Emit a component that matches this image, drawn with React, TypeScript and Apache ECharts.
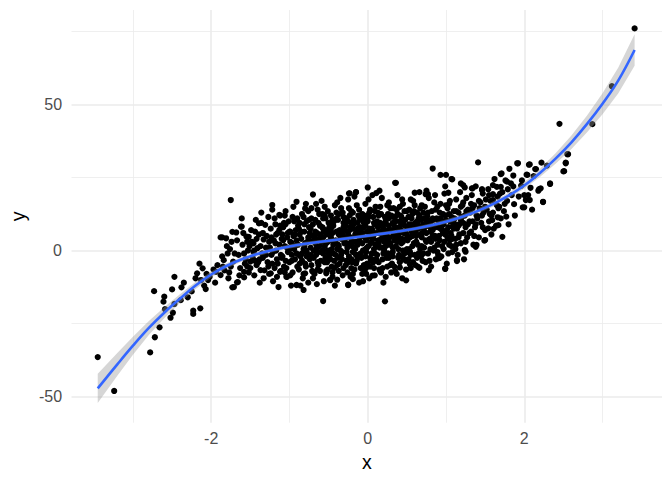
import { useEffect, useRef } from "react";
import * as echarts from "echarts";

const xMajorTicks = [-2, 0, 2];
const xMinorTicks = [-3, -1, 1, 3];
const yMajorTicks = [-50, 0, 50];
const yMinorTicks = [-25, 25, 75];

const edgePoints: [number, number][] = [
  [-3.45,-36.5],[-3.24,-48.1],[-2.78,-34.9],[-2.72,-29.7],[-2.66,-26.3],[-2.52,-23.0],[-2.49,-21.3],[-2.59,-20.1],[-2.61,-17.5],[-2.60,-15.8],[-2.73,-13.9],[-2.50,-13.3],[-2.47,-18.3],[-2.39,-17.0],[-2.47,-9.0],[-2.38,-12.6],[-2.23,-20.6],[-2.23,-21.7],[-2.14,-19.8],[-2.18,-7.8],[-2.11,-6.1],[-2.07,-13.2],[-2.13,-10.1],[-2.04,-10.1],[-1.94,-7.3],[-1.88,-8.4],[-1.73,-12.6],[-1.67,-10.9],[-1.84,-3.3],[-1.75,-5.5],[-1.58,-7.3],[-1.50,-3.8],[-1.37,-6.7],[-1.24,-7.8],[-1.12,-7.3],[-1.03,-9.0],[-0.91,-11.8],[-0.82,-13.5],[-0.57,-17.3],[-0.80,-7.8],[-0.70,-7.3],[-0.48,-10.1],[-0.53,-7.8],
  [-1.75,17.3],[-0.70,19.2],[-0.91,16.7],[-1.22,15.6],[-1.13,12.2],[-1.61,8.2],[-1.73,6.4],[-1.39,9.3],[-0.80,14.4],[-0.55,15.0],[-1.86,4.5],[-1.52,4.7],
  [3.41,76.1],[3.12,56.3],[2.87,43.3],[2.45,43.4],[2.56,33.0],[2.53,30.1],[2.50,27.1],[2.33,22.8],[2.24,16.6],[2.22,30.1],[2.29,29.1],[2.14,27.9],[2.06,29.4],[1.91,29.9],[1.81,28.0],[1.70,26.2],[2.03,26.0],[1.86,25.7],[2.19,21.0],[2.00,19.0],[2.02,17.3],[2.00,14.8],[1.87,15.9],[2.07,17.3],[1.41,30.2],[0.83,28.1],[0.93,25.9],[1.00,25.9],[1.07,24.5],[1.19,23.0],[1.24,21.6],[1.34,21.3],[1.46,21.0],[1.60,22.4],[1.70,21.8],[1.78,23.6],[0.35,23.2],[0.00,21.6],[-0.24,19.6],[-0.15,20.0],[0.11,19.7],[0.60,19.8],[0.74,19.3],[0.77,19.3],[1.03,19.8],
  [0.22,-17.4],[0.49,-10.2],[-0.25,-11.7],[-0.19,-9.8],[0.06,-8.6],[0.16,-7.0],[0.25,-5.5],[0.66,-5.9],[0.99,-6.3],[1.14,-3.6],[0.90,-2.7],[0.54,-4.7],[0.41,-5.8],[-0.02,-5.9],[1.25,-0.4],[1.38,1.3],[1.49,3.4],
  [1.08,24.4],[1.71,26.4],[1.92,29.9],[2.07,29.5],[2.15,27.9],[2.04,25.9],[1.83,23.0],[1.96,22.2],[2.33,23.0],[2.21,21.3],[2.18,20.5],[2.05,19.0],[1.98,14.8],[2.24,16.7],[2.51,27.2],[2.53,29.9],[2.55,33.0],[1.72,4.7],[1.77,11.6],[1.66,11.4],[1.59,10.4],[1.67,8.7],[1.54,7.6],[1.50,3.6],[1.39,1.9],[1.24,0.2],[1.14,-3.3],[0.99,-6.1],[0.92,-2.5],[1.67,14.5],[1.60,17.3],[1.46,20.7],[1.33,21.3],[1.22,22.4],[1.65,21.8],[1.60,19.3],
  [0.36,23.2],[-0.23,19.6],[-0.25,-11.8],[-0.48,-10.1],
  [-2.25,-14.0],[-2.2,-9.5],[-2.15,-4.5],[-2.3,-16.0],[-2.35,-11.0],
  [-2.02,-9.0],[-1.97,-6.5],[-1.95,-11.0],[-2.06,-8.0],[-1.92,-5.0],[-2.09,-12.0],
];

const corePoints: [number, number][] = [
  [-1.88,4.5],[-1.81,4.2],[-1.86,-2.0],[-1.83,-6.8],[-1.78,-9.5],[-1.76,0.5],[-1.72,-3.8],[-1.71,-12.5],[-1.79,-1.0],[-1.74,3.0],
  [-1.68,6.2],[-1.65,-1.5],[-1.63,-6.0],[-1.62,8.2],[-1.6,2.0],[-1.58,-9.2],[-1.56,-3.0],[-1.55,4.8],[-1.53,0.0],[-1.52,-7.5],[-1.66,-10.8],[-1.61,11.0],[-1.57,-4.5],
  [-1.49,7.0],[-1.47,-2.5],[-1.46,2.5],[-1.45,-8.5],[-1.43,10.5],[-1.42,-5.0],[-1.41,0.8],[-1.39,5.5],[-1.38,-11.0],[-1.36,13.0],[-1.35,-1.0],[-1.33,3.8],[-1.32,-6.8],[-1.31,8.8],[-1.44,-3.5],[-1.37,1.5],
  [-1.29,5.0],[-1.28,-4.0],[-1.27,11.5],[-1.26,-8.0],[-1.25,1.0],[-1.24,7.5],[-1.23,-1.5],[-1.22,14.0],[-1.21,-10.5],[-1.2,3.5],[-1.19,-6.0],[-1.18,9.0],[-1.17,0.0],[-1.16,-3.0],[-1.15,6.0],[-1.14,-12.5],[-1.13,2.0],[-1.12,12.0],[-1.11,-7.0],[-1.1,4.0],
  [-1.09,-2.0],[-1.08,8.0],[-1.07,-5.5],[-1.06,1.5],[-1.05,13.5],[-1.04,-9.0],[-1.03,4.5],[-1.02,-0.5],[-1.01,10.0],[-1.0,-4.0],[-0.99,6.5],[-0.98,-12.0],[-0.97,2.5],[-0.96,-7.5],[-0.95,15.0],[-0.94,0.5],[-0.93,-3.0],[-0.92,7.0],[-0.91,-1.0],[-0.9,11.0],[-0.99,3.0],[-1.04,-6.0],[-0.95,5.0],[-1.07,9.5],
  [-0.89,2.0],[-0.88,-6.5],[-0.87,9.5],[-0.86,-2.0],[-0.85,4.0],[-0.84,12.5],[-0.83,-9.5],[-0.82,0.5],[-0.81,6.5],[-0.8,-4.5],[-0.79,16.0],[-0.78,-0.5],[-0.77,3.0],[-0.76,-11.0],[-0.75,8.0],[-0.74,-3.0],[-0.73,1.0],[-0.72,11.0],[-0.71,-7.0],[-0.7,5.0],[-0.88,7.5],[-0.84,-1.0],[-0.8,2.5],[-0.76,13.5],[-0.72,-5.0],[-0.86,-12.0],[-0.78,10.0],[-0.74,6.0],[-0.82,-8.0],
  [-0.69,3.5],[-0.68,-8.0],[-0.67,10.5],[-0.66,-1.5],[-0.65,6.0],[-0.64,14.0],[-0.63,-5.0],[-0.62,1.5],[-0.61,8.5],[-0.6,-3.5],[-0.59,17.0],[-0.58,0.0],[-0.57,4.5],[-0.56,-10.5],[-0.55,12.0],[-0.54,-2.5],[-0.53,2.5],[-0.52,7.0],[-0.51,-6.5],[-0.5,9.5],[-0.68,5.0],[-0.65,-11.5],[-0.62,12.5],[-0.59,-0.5],[-0.56,6.5],[-0.53,-7.0],[-0.51,3.0],[-0.66,16.0],[-0.6,4.0],[-0.54,11.0],[-0.64,-4.0],[-0.58,8.0],[-0.5,-1.0],
  [-0.49,5.5],[-0.48,-3.0],[-0.47,12.0],[-0.46,0.5],[-0.45,-7.5],[-0.44,8.5],[-0.43,3.0],[-0.42,15.5],[-0.41,-1.5],[-0.4,6.5],[-0.39,-10.0],[-0.38,10.5],[-0.37,1.5],[-0.36,-4.5],[-0.35,18.0],[-0.34,4.0],[-0.33,-0.5],[-0.32,13.0],[-0.31,-6.0],[-0.3,7.5],[-0.48,9.0],[-0.46,-5.5],[-0.44,2.0],[-0.42,-12.0],[-0.4,11.0],[-0.38,-2.5],[-0.36,7.0],[-0.34,14.5],[-0.32,-8.5],[-0.3,2.5],[-0.47,4.5],[-0.43,-3.5],[-0.39,16.5],[-0.35,0.0],[-0.31,9.5],[-0.45,6.0],[-0.37,-7.0],
  [-0.29,4.0],[-0.28,-5.0],[-0.27,11.0],[-0.26,1.0],[-0.25,17.5],[-0.24,-2.0],[-0.23,7.0],[-0.22,-9.0],[-0.21,13.5],[-0.2,3.0],[-0.19,-0.5],[-0.18,9.0],[-0.17,-6.5],[-0.16,5.5],[-0.15,20.0],[-0.14,-3.5],[-0.13,2.0],[-0.12,12.0],[-0.11,-11.0],[-0.1,6.5],[-0.28,8.5],[-0.26,-7.5],[-0.24,14.5],[-0.22,4.5],[-0.2,-4.0],[-0.18,10.5],[-0.16,0.5],[-0.14,15.5],[-0.12,-1.5],[-0.1,8.0],[-0.27,-0.5],[-0.23,2.5],[-0.19,-8.0],[-0.15,6.0],[-0.11,3.5],[-0.25,10.0],[-0.21,-3.0],[-0.17,18.5],[-0.13,7.5],
  [-0.09,5.0],[-0.08,-2.5],[-0.07,12.5],[-0.06,0.0],[-0.05,8.0],[-0.04,-7.0],[-0.03,16.0],[-0.02,3.5],[-0.01,-4.5],[0.0,10.0],[0.01,1.5],[0.02,-9.5],[0.03,14.0],[0.04,6.0],[0.05,-1.0],[0.06,19.0],[0.07,4.0],[0.08,-6.0],[0.09,9.0],[0.1,2.0],[-0.08,7.5],[-0.06,-10.5],[-0.04,11.0],[-0.02,-0.5],[0.0,4.5],[0.02,13.0],[0.04,-3.5],[0.06,7.0],[0.08,0.5],[0.1,15.0],[-0.07,2.5],[-0.03,-2.0],[0.01,17.5],[0.05,3.0],[0.09,-8.5],[-0.05,9.5],[-0.01,6.5],[0.03,-5.5],[0.07,11.5],[-0.09,-6.0],
  [0.11,6.0],[0.12,-1.5],[0.13,13.0],[0.14,2.5],[0.15,-6.5],[0.16,9.5],[0.17,4.0],[0.18,18.0],[0.19,-3.0],[0.2,7.5],[0.21,0.0],[0.22,11.5],[0.23,-9.0],[0.24,5.0],[0.25,15.5],[0.26,-1.0],[0.27,8.5],[0.28,2.0],[0.29,-5.0],[0.3,12.0],[0.12,10.0],[0.14,-4.0],[0.16,15.0],[0.18,1.0],[0.2,-11.0],[0.22,6.5],[0.24,-2.5],[0.26,12.5],[0.28,4.5],[0.3,-7.5],[0.13,3.5],[0.17,-7.5],[0.21,9.0],[0.25,3.0],[0.29,7.0],[0.15,20.5],[0.19,5.5],[0.23,1.5],[0.27,16.5],
  [0.31,7.0],[0.32,-2.0],[0.33,14.5],[0.34,3.5],[0.35,-7.0],[0.36,10.0],[0.37,5.0],[0.38,19.0],[0.39,0.5],[0.4,8.0],[0.41,-4.0],[0.42,12.0],[0.43,2.5],[0.44,-9.5],[0.45,16.0],[0.46,6.0],[0.47,-1.0],[0.48,10.5],[0.49,4.0],[0.5,13.5],[0.32,9.5],[0.34,-5.5],[0.36,1.5],[0.38,12.5],[0.4,-1.5],[0.42,7.0],[0.44,17.5],[0.46,-3.0],[0.48,6.5],[0.5,0.5],[0.33,5.5],[0.37,-8.0],[0.41,15.0],[0.45,3.0],[0.49,-6.5],[0.35,11.5],[0.43,9.0],
  [0.51,8.0],[0.52,-3.0],[0.53,14.0],[0.54,4.5],[0.55,-6.0],[0.56,11.0],[0.57,1.5],[0.58,17.0],[0.59,6.0],[0.6,-1.5],[0.61,9.5],[0.62,3.0],[0.63,13.0],[0.64,-5.5],[0.65,7.5],[0.66,20.0],[0.67,0.5],[0.68,10.5],[0.69,4.5],[0.7,-3.5],[0.52,11.5],[0.54,-0.5],[0.56,6.5],[0.58,-4.0],[0.6,15.5],[0.62,8.5],[0.64,2.0],[0.66,12.0],[0.68,-2.0],[0.7,6.0],[0.55,17.5],[0.61,-5.0],[0.67,14.5],
  [0.71,9.0],[0.72,1.0],[0.73,15.0],[0.74,-4.0],[0.75,6.0],[0.76,12.0],[0.77,-1.0],[0.78,18.0],[0.79,4.0],[0.8,9.5],[0.81,-5.5],[0.82,13.5],[0.83,7.0],[0.84,0.0],[0.85,16.5],[0.86,5.0],[0.87,-3.0],[0.88,11.0],[0.89,2.0],[0.9,8.0],[0.72,6.5],[0.75,20.5],[0.78,-6.8],[0.81,3.0],[0.84,10.5],[0.87,14.0],[0.9,-1.5],[0.77,8.5],[0.86,19.0],
  [0.91,10.0],[0.92,3.5],[0.93,16.0],[0.94,-2.0],[0.95,7.0],[0.96,12.5],[0.97,0.5],[0.98,19.5],[0.99,5.5],[1.0,10.5],[1.01,-4.5],[1.02,14.5],[1.03,8.0],[1.04,2.0],[1.05,17.0],[1.06,6.0],[1.07,11.5],[1.08,-0.5],[1.09,8.5],[1.1,13.5],[0.94,8.0],[0.99,22.0],[1.03,-1.0],[1.08,4.0],
  [1.11,11.0],[1.12,4.0],[1.13,17.5],[1.14,7.5],[1.15,-1.5],[1.16,13.0],[1.17,9.0],[1.18,20.0],[1.19,2.5],[1.2,11.5],[1.21,15.5],[1.22,6.0],[1.23,-3.0],[1.24,12.0],[1.25,8.0],[1.26,18.0],[1.27,4.5],[1.28,14.0],[1.3,10.0],
  [1.31,13.0],[1.32,6.5],[1.33,19.0],[1.34,10.0],[1.35,2.0],[1.36,15.5],[1.37,8.0],[1.38,22.0],[1.39,12.0],[1.42,4.5],[1.44,16.5],[1.45,9.5],[1.47,19.5],[1.48,13.0],[1.5,7.0],
  [1.52,14.0],[1.54,21.0],[1.55,10.0],[1.57,17.0],[1.58,5.5],[1.6,13.0],[1.62,24.5],[1.64,8.5],[1.66,18.5],[1.68,15.0],[1.7,11.0],
  [1.72,20.0],[1.74,13.5],[1.76,24.0],[1.78,17.0],[1.8,9.0],[1.84,19.0],[1.86,22.0],[1.88,12.0],
  [1.93,18.5],[1.97,24.0],[2.08,21.5],[2.1,14.0],[2.12,25.5],
];

const extraPoints: [number, number][] = [
  [-1.85,-5.5],[-1.8,1.5],[-1.77,-7.5],[-1.7,-1.0],[-1.67,3.5],[-1.64,-8.5],[-1.59,6.0],[-1.54,-5.5],[-1.51,1.5],
  [-1.48,3.0],[-1.44,6.5],[-1.4,-4.0],[-1.36,9.5],[-1.34,-2.5],[-1.3,1.0],[-1.27,-5.5],[-1.23,4.5],[-1.19,11.0],[-1.16,-9.0],[-1.13,7.0],[-1.1,-2.5],[-1.45,0.0],[-1.33,-9.5],[-1.21,-0.5],
  [-1.08,3.5],[-1.05,-3.5],[-1.02,6.0],[-0.99,-8.5],[-0.96,11.5],[-0.93,1.5],[-0.9,-5.5],[-0.87,5.5],[-0.84,-3.5],[-0.81,9.0],[-0.78,-2.0],[-0.75,3.5],[-0.72,14.5],[-0.7,-9.5],[-1.06,12.0],[-0.97,-1.5],[-0.89,8.5],[-0.79,0.0],[-0.73,7.5],
  [-0.69,-2.5],[-0.67,6.5],[-0.65,1.0],[-0.63,9.5],[-0.61,-7.0],[-0.59,3.0],[-0.57,11.0],[-0.55,-4.0],[-0.53,5.5],[-0.51,13.5],[-0.49,-1.5],[-0.47,7.5],[-0.45,-9.0],[-0.43,10.0],[-0.41,3.5],[-0.39,-5.0],[-0.37,12.5],[-0.35,5.0],[-0.33,-3.0],[-0.31,8.0],[-0.63,-0.5],[-0.57,-1.0],[-0.5,6.0],[-0.44,-1.0],[-0.38,2.0],[-0.32,5.5],
  [-0.29,10.5],[-0.27,-3.5],[-0.25,5.5],[-0.23,12.0],[-0.21,-6.0],[-0.19,7.5],[-0.17,1.0],[-0.15,-4.5],[-0.13,9.5],[-0.11,14.0],[-0.09,-1.0],[-0.07,6.0],[-0.05,-5.0],[-0.03,8.5],[-0.01,1.0],[0.01,11.5],[0.03,-2.5],[0.05,7.5],[0.07,-4.0],[0.09,13.5],[-0.26,6.5],[-0.2,1.5],[-0.14,3.0],[-0.08,10.5],[-0.02,-8.0],[0.04,2.5],[0.08,5.5],
  [0.11,-3.0],[0.13,8.0],[0.15,1.0],[0.17,12.5],[0.19,-6.0],[0.21,5.0],[0.23,9.5],[0.25,-2.0],[0.27,11.0],[0.29,2.5],[0.31,-4.5],[0.33,9.0],[0.35,4.5],[0.37,14.0],[0.39,-2.5],[0.41,6.0],[0.43,11.5],[0.45,0.0],[0.47,8.5],[0.49,-3.5],[0.14,6.0],[0.2,3.5],[0.26,7.0],[0.32,1.0],[0.38,7.5],[0.44,4.0],
  [0.51,3.5],[0.53,9.0],[0.55,-1.5],[0.57,12.5],[0.59,2.5],[0.61,6.5],[0.63,-2.5],[0.65,11.0],[0.67,5.5],[0.69,15.5],[0.71,-1.0],[0.73,8.0],[0.75,3.0],[0.77,13.0],[0.79,-3.5],[0.81,10.5],[0.83,5.0],[0.85,1.0],[0.87,8.5],[0.89,15.0],[0.57,5.0],[0.64,9.0],[0.72,11.0],[0.8,6.5],
  [0.91,5.0],[0.93,11.0],[0.95,1.5],[0.97,9.0],[1.0,15.5],[1.02,4.5],[1.05,10.0],[1.07,1.5],[1.1,7.5],[1.13,13.5],[1.16,4.5],[1.19,10.5],[1.22,16.5],[1.25,3.0],[1.28,9.0],[0.96,6.0],[1.04,12.5],[1.12,0.5],
  [1.32,16.0],[1.36,5.0],[1.4,11.0],[1.43,14.5],[1.47,8.0],[1.51,17.5],[1.56,12.5],[1.61,7.5],[1.65,15.5],[1.69,19.5],[1.75,16.0],[1.79,21.0],
];

const densePoints: [number, number][] = [
  [-1.18,2.5],[-1.15,-4.5],[-1.12,8.5],[-1.09,5.5],[-1.06,-7.5],[-1.03,1.0],[-1.0,6.5],[-0.97,-3.5],[-0.94,10.0],[-0.91,3.5],[-0.88,-1.5],[-0.85,6.5],[-0.82,11.5],[-0.79,-5.5],[-0.76,4.5],[-0.73,-1.5],[-0.7,9.0],[-0.67,2.5],[-0.64,-6.5],[-0.61,5.5],[-0.58,12.5],[-0.55,1.5],[-0.52,-4.0],[-0.49,8.0],[-0.46,3.5],[-0.43,-6.0],[-0.4,13.0],[-0.37,5.5],[-0.34,-1.5],[-0.31,11.5],[-0.28,2.5],[-0.25,-4.0],[-0.22,8.0],[-0.19,13.0],[-0.16,3.0],[-0.13,-2.5],[-0.1,11.0],[-0.07,-8.0],[-0.04,4.5],[-0.01,12.0],[0.02,7.5],[0.05,-3.0],[0.08,9.5],[0.11,1.5],[0.14,12.0],[0.17,6.5],[0.2,-1.0],[0.23,10.5],[0.26,3.5],[0.29,14.5],[0.32,-0.5],[0.35,8.0],[0.38,3.0],[0.41,10.0],[0.44,-2.0],[0.47,13.5],[0.5,5.5],[0.53,0.5],[0.56,9.0],[0.59,13.5],[0.62,5.0],[0.65,-1.0],[0.68,8.0],[0.71,13.0],[0.74,3.5],[0.77,10.5],[0.8,0.5],[0.83,11.0],[0.86,8.0],[0.89,-0.5],[0.92,13.0],[0.95,10.0],[0.98,3.0],[1.01,7.0],[1.04,16.0],[1.07,5.0],[1.1,10.5],[1.13,2.0],[1.16,8.5],[1.19,15.0],
  [-1.17,5.5],[-1.11,-1.5],[-1.05,9.0],[-0.99,0.5],[-0.93,5.5],[-0.87,-4.5],[-0.81,1.5],[-0.75,10.5],[-0.69,0.0],[-0.63,4.0],[-0.57,7.5],[-0.51,0.0],[-0.45,10.5],[-0.39,0.5],[-0.33,6.5],[-0.27,4.5],[-0.21,9.5],[-0.15,-1.5],[-0.09,7.5],[-0.03,0.5],[0.03,5.0],[0.09,-1.0],[0.15,8.5],[0.21,3.0],[0.27,-2.5],[0.33,11.5],[0.39,4.5],[0.45,9.5],[0.51,-0.5],[0.57,8.0],[0.63,10.0],[0.69,1.5],[0.75,9.5],[0.81,7.5],[0.87,4.0],[0.93,7.5],[0.99,12.0],[1.05,3.5],[1.11,9.0],[1.17,5.5],
  [-1.58,-1.0],[-1.54,3.0],[-1.5,-6.0],[-1.46,-0.5],[-1.42,4.0],[-1.38,-3.0],[-1.34,6.0],[-1.3,-1.5],[-1.26,3.0],[-1.22,-4.5],
  [1.22,9.5],[1.26,13.5],[1.3,6.0],[1.34,14.5],[1.38,9.0],[1.42,17.0],[1.46,12.0],[1.5,15.0],[1.55,19.0],[1.58,12.0],
];

const smoothX = [-3.45,-3.2,-3.0,-2.8,-2.6,-2.4,-2.2,-2.0,-1.8,-1.6,-1.4,-1.2,-1.0,-0.8,-0.6,-0.4,-0.2,0,0.2,0.4,0.6,0.8,1.0,1.2,1.4,1.6,1.8,2.0,2.2,2.4,2.6,2.8,3.0,3.2,3.41];
const smoothY = [-47.2,-39.0,-32.6,-26.6,-21.3,-16.5,-12.0,-8.2,-5.2,-2.9,-1.1,0.3,1.4,2.3,3.0,3.7,4.4,5.1,5.8,6.6,7.5,8.6,9.9,11.5,13.5,15.9,18.8,22.3,26.6,31.5,37.0,43.3,50.3,58.2,68.7];
const bandLower = [-52.2,-42.9,-35.7,-29.0,-23.2,-18.0,-13.2,-9.2,-6.1,-3.7,-1.9,-0.4,0.7,1.6,2.4,3.1,3.8,4.5,5.2,6.0,6.9,7.9,9.2,10.7,12.7,15.0,17.8,21.2,25.2,29.7,34.7,40.4,46.7,53.8,63.3];
const bandUpper = [-42.2,-35.1,-29.5,-24.2,-19.4,-15.0,-10.8,-7.2,-4.3,-2.1,-0.3,1.0,2.1,3.0,3.6,4.3,5.0,5.7,6.4,7.2,8.1,9.3,10.6,12.3,14.3,16.8,19.8,23.4,28.0,33.3,39.3,46.2,53.9,62.6,74.1];

const FONT = "'Liberation Sans', Arial, Helvetica, sans-serif";
const GRID = "#EBEBEB";

export default function App() {
  const ref = useRef<HTMLDivElement>(null);
  useEffect(() => {
    if (!ref.current) return;
    const chart = echarts.init(ref.current, undefined, { renderer: "svg" });
    const gridLines: any[] = [
      ...xMinorTicks.map((v) => ({ xAxis: v, lineStyle: { color: GRID, width: 0.8, type: "solid" } })),
      ...yMinorTicks.map((v) => ({ yAxis: v, lineStyle: { color: GRID, width: 0.8, type: "solid" } })),
      ...xMajorTicks.map((v) => ({ xAxis: v, lineStyle: { color: GRID, width: 1.6, type: "solid" } })),
      ...yMajorTicks.map((v) => ({ yAxis: v, lineStyle: { color: GRID, width: 1.6, type: "solid" } })),
    ];
    const allPoints = [...edgePoints, ...corePoints, ...extraPoints, ...densePoints];
    chart.setOption({
      animation: false,
      backgroundColor: "#ffffff",
      grid: { left: 66, right: 10, top: 10, bottom: 57.3, containLabel: false },
      xAxis: {
        type: "value",
        min: -3.785,
        max: 3.76,
        name: "x",
        nameLocation: "middle",
        nameGap: 26,
        nameTextStyle: { color: "#000000", fontSize: 19.5, fontFamily: FONT },
        axisLine: { show: false },
        axisTick: { show: false },
        splitLine: { show: false },
        axisLabel: {
          customValues: xMajorTicks,
          color: "#4D4D4D",
          fontSize: 16,
          fontFamily: FONT,
          margin: 8,
        },
      },
      yAxis: {
        type: "value",
        min: -58.97,
        max: 82.4,
        name: "y",
        nameLocation: "middle",
        nameGap: 38,
        nameRotate: 90,
        nameTextStyle: { color: "#000000", fontSize: 19.5, fontFamily: FONT },
        axisLine: { show: false },
        axisTick: { show: false },
        splitLine: { show: false },
        axisLabel: {
          customValues: yMajorTicks,
          color: "#4D4D4D",
          fontSize: 16,
          fontFamily: FONT,
          margin: 9.5,
        },
      },
      series: [
        {
          type: "scatter",
          z: 3,
          data: allPoints,
          symbol: "circle",
          symbolSize: 6.2,
          itemStyle: { color: "#000000", opacity: 1 },
          silent: true,
          markLine: {
            z: 1,
            silent: true,
            symbol: ["none", "none"],
            label: { show: false },
            animation: false,
            data: gridLines,
          },
        },
        {
          type: "custom",
          z: 4,
          silent: true,
          data: smoothX.map((x, i) => [x, bandLower[i], bandUpper[i]]),
          encode: { x: 0, y: [1, 2] },
          renderItem: (params: any, api: any) => {
            if (params.dataIndex !== 0) return null;
            const pts: number[][] = [];
            for (let i = 0; i < smoothX.length; i++) pts.push(api.coord([smoothX[i], bandUpper[i]]));
            for (let i = smoothX.length - 1; i >= 0; i--) pts.push(api.coord([smoothX[i], bandLower[i]]));
            return {
              type: "polygon",
              shape: { points: pts },
              style: { fill: "rgba(153,153,153,0.4)", stroke: "none" },
            };
          },
        },
        {
          type: "line",
          z: 5,
          silent: true,
          data: smoothX.map((x, i) => [x, smoothY[i]]),
          smooth: 0.4,
          showSymbol: false,
          symbol: "none",
          lineStyle: { color: "#3366FF", width: 2.6 },
        },
      ],
    });
    return () => chart.dispose();
  }, []);
  return (
    <div
      ref={ref}
      style={{ position: "fixed", left: 0, top: 0, width: 672, height: 480 }}
    />
  );
}
